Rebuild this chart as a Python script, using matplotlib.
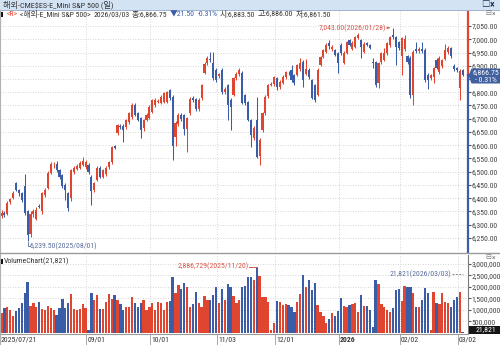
import matplotlib
matplotlib.use("Agg")
import matplotlib.pyplot as plt
from matplotlib import font_manager
from matplotlib.patches import Rectangle, Polygon
import numpy as np

_have = {f.name for f in font_manager.fontManager.ttflist}
_narrow = [n for n in ("Liberation Sans Narrow", "DejaVu Sans Condensed", "Roboto Condensed")
           if n in _have]
if _narrow:
    LATIN, FS = _narrow[0], 5.6
else:
    LATIN, FS = "Liberation Sans", 4.7
plt.rcParams["font.family"] = [LATIN, "Noto Sans CJK KR", "DejaVu Sans"]

# ---- daily bars 2025/07/21 .. 2026/03/03 ----
opens = [6332, 6346, 6340, 6385, 6400, 6456, 6430, 6418, 6445, 6350,
         6266, 6340, 6322, 6372, 6350, 6412, 6440, 6496, 6524, 6528,
         6505, 6486, 6450, 6418, 6400, 6498, 6510, 6516, 6526, 6518,
         6525, 6480, 6432, 6470, 6516, 6480, 6490, 6518, 6535, 6596,
         6648, 6672, 6672, 6668, 6688, 6707, 6752, 6720, 6703, 6666,
         6695, 6703, 6725, 6752, 6764, 6760, 6763, 6765, 6808, 6782,
         6632, 6680, 6716, 6714, 6660, 6722, 6780, 6776, 6735, 6778,
         6873, 6910, 6926, 6910, 6884, 6860, 6884, 6800, 6827, 6771,
         6790, 6853, 6868, 6873, 6790, 6763, 6695, 6627, 6695, 6560,
         6657, 6722, 6784, 6828, 6830, 6853, 6820, 6835, 6857, 6874,
         6884, 6865, 6865, 6888, 6914, 6870, 6884, 6846, 6827, 6790,
         6903, 6933, 6952, 6986, 6962, 6960, 6948, 6978, 6910, 6948,
         6997, 6962, 6971, 7005, 6997, 6952, 6986, 6978, 6914, 6914,
         6835, 6914, 6922, 6948, 6978, 7016, 7008, 6990, 6935, 6962,
         6935, 6930, 6790, 6962, 6955, 6965, 6960, 6866, 6852, 6858,
         6922, 6875, 6900, 6925, 6952, 6966, 6900, 6890, 6815, 6883.5]
closes = [6345, 6336, 6383, 6396, 6420, 6432, 6418, 6392, 6345, 6262,
          6342, 6350, 6355, 6368, 6418, 6430, 6495, 6530, 6526, 6506,
          6480, 6446, 6430, 6362, 6505, 6515, 6520, 6532, 6542, 6535,
          6498, 6428, 6456, 6514, 6482, 6505, 6516, 6536, 6592, 6590,
          6676, 6668, 6658, 6695, 6720, 6750, 6716, 6696, 6658, 6695,
          6714, 6744, 6771, 6770, 6768, 6782, 6797, 6800, 6778, 6598,
          6684, 6716, 6698, 6660, 6702, 6776, 6772, 6735, 6772, 6826,
          6908, 6928, 6920, 6855, 6848, 6868, 6800, 6812, 6752, 6745,
          6853, 6868, 6884, 6760, 6760, 6695, 6640, 6665, 6556, 6620,
          6720, 6782, 6827, 6832, 6857, 6820, 6838, 6857, 6876, 6872,
          6846, 6835, 6903, 6910, 6846, 6888, 6858, 6780, 6771, 6884,
          6933, 6959, 6978, 6973, 6971, 6940, 6910, 6948, 6948, 6990,
          6980, 6986, 7008, 7016, 6971, 6982, 6980, 6968, 6910, 6827,
          6910, 6948, 6948, 6986, 7008, 7008, 6972, 6968, 7005, 7000,
          6915, 6790, 6952, 6955, 6962, 6956, 6846, 6848, 6864, 6890,
          6892, 6930, 6920, 6958, 6968, 6935, 6886, 6884, 6882, 6866.75]
highs = [6355, 6352, 6390, 6402, 6428, 6462, 6436, 6424, 6492, 6356,
         6350, 6358, 6366, 6380, 6425, 6438, 6502, 6538, 6535, 6540,
         6512, 6490, 6458, 6425, 6512, 6522, 6528, 6540, 6555, 6545,
         6532, 6486, 6462, 6520, 6522, 6510, 6522, 6542, 6598, 6600,
         6682, 6680, 6680, 6700, 6726, 6758, 6760, 6726, 6708, 6700,
         6720, 6750, 6776, 6778, 6774, 6788, 6802, 6806, 6814, 6790,
         6690, 6722, 6722, 6718, 6708, 6782, 6786, 6780, 6778, 6832,
         6915, 6935, 6952, 6952, 6890, 6874, 6890, 6818, 6832, 6778,
         6858, 6875, 6892, 6880, 6795, 6768, 6700, 6672, 6782, 6628,
         6726, 6788, 6832, 6838, 6862, 6858, 6845, 6864, 6882, 6880,
         6903, 6870, 6908, 6929, 6920, 6927, 6890, 6850, 6832, 6890,
         6938, 6964, 6985, 6997, 6978, 6964, 6952, 6984, 6954, 6995,
         7000, 6992, 7014, 7024, 7002, 6988, 6990, 6982, 6929, 6918,
         6915, 6952, 6967, 6990, 7014, 7043, 7012, 6995, 7010, 7016,
         6940, 6936, 6958, 6990, 6970, 6990, 6966, 6872, 6868, 6895,
         6928, 6935, 6926, 6982, 6975, 6972, 6905, 6895, 6888, 6886]
lows = [6325, 6330, 6335, 6380, 6396, 6428, 6410, 6385, 6338, 6239.5,
        6255, 6330, 6318, 6362, 6342, 6405, 6435, 6490, 6516, 6500,
        6472, 6440, 6393, 6352, 6390, 6492, 6505, 6510, 6520, 6512,
        6490, 6374, 6425, 6465, 6476, 6475, 6484, 6512, 6530, 6584,
        6640, 6660, 6612, 6662, 6682, 6700, 6710, 6690, 6627, 6655,
        6690, 6698, 6720, 6746, 6758, 6755, 6758, 6760, 6772, 6544,
        6596, 6674, 6690, 6639, 6574, 6716, 6764, 6728, 6730, 6772,
        6868, 6904, 6914, 6848, 6840, 6855, 6795, 6792, 6695, 6657,
        6785, 6848, 6862, 6755, 6752, 6690, 6593, 6620, 6550, 6525,
        6650, 6716, 6778, 6822, 6824, 6808, 6814, 6830, 6850, 6866,
        6840, 6828, 6860, 6882, 6820, 6865, 6850, 6775, 6765, 6785,
        6898, 6928, 6948, 6965, 6955, 6935, 6873, 6942, 6905, 6944,
        6975, 6958, 6966, 7000, 6929, 6948, 6975, 6962, 6890, 6820,
        6816, 6908, 6918, 6942, 6972, 7000, 6903, 6960, 6865, 6955,
        6908, 6780, 6752, 6948, 6948, 6950, 6840, 6812, 6846, 6835,
        6886, 6868, 6892, 6920, 6946, 6928, 6880, 6875, 6771, 6861.5]
volume_k = [870, 1090, 1130, 1000, 750, 950, 1100, 1290, 1750, 2220,
            1170, 1310, 1130, 1330, 1060, 1000, 1170, 1090, 1000, 780,
            1100, 1460, 1100, 1320, 1700, 1030, 980, 1030, 1250, 1100,
            130, 1750, 1430, 1640, 1060, 1060, 1360, 1700, 1480, 1640,
            1430, 1280, 1000, 1130, 1130, 1570, 1290, 1140, 1300, 1420,
            1000, 1130, 1290, 1000, 1350, 1290, 1000, 1330, 1380, 2450,
            1730, 2070, 1930, 2160, 2000, 1140, 1250, 1800, 1300, 1140,
            1600, 1450, 1430, 1650, 2000, 1300, 1900, 1420, 2150, 2000,
            1600, 1300, 1450, 2000, 2030, 2450, 2450, 2300, 2886.729, 2480,
            1560, 1560, 1360, 130, 420, 1400, 1360, 1220, 1260, 1220,
            1110, 930, 1360, 1690, 2510, 2010, 2300, 1870, 2160, 1220,
            930, 740, 430, 620, 860, 760, 970, 1500, 1170, 1110,
            1220, 1260, 1290, 920, 1650, 1170, 1190, 1000, 250, 2300,
            2150, 1270, 1110, 1000, 900, 1100, 1870, 1900, 1400, 2050,
            2000, 2010, 1720, 1140, 1130, 1450, 1950, 1730, 150, 1800,
            1290, 1250, 1730, 1360, 1300, 1130, 1450, 1550, 1780, 21.821]

date_ticks = [0, 30, 52, 75, 95, 117, 138, 158]
date_labels = ["2025/07/21", "09/01", "10/01", "11/03", "12/01", "2026", "02/02", "03/02"]
price_ticks = list(range(6250, 7051, 50))
vol_ticks = [500000, 1000000, 1500000, 2000000, 2500000, 3000000]

RED = "#e0452f"
BLUE = "#3b5ca7"
RED_T = "#d9574a"
BLUE_T = "#5b6f9e"
INK = "#333333"
GRID = "#c9c9c9"

W, H = 500, 345
fig = plt.figure(figsize=(W / 100, H / 100), dpi=100)
fig.patch.set_facecolor("white")


def rect(x0, y0, x1, y1):
    return [x0 / W, 1 - y1 / H, (x1 - x0) / W, (y1 - y0) / H]


o = np.array(opens); c = np.array(closes)
hi = np.array(highs); lo = np.array(lows)
vol = np.array(volume_k) * 1000
x = np.arange(len(o))
up = c >= o
cols = np.where(up, RED, BLUE)
XLIM = (-0.52, 160.86)
tick_x = [t - 0.7 for t in date_ticks]

# ---------------- price panel ----------------
ax = fig.add_axes(rect(0, 10, 468, 252))
ax.set_xlim(*XLIM)
ax.set_ylim(6197.1, 7110.4)
for p in price_ticks:
    ax.axhline(p, color=GRID, lw=0.6, ls=(0, (1, 2)), zorder=0)
for tx in tick_x[1:]:
    ax.axvline(tx, color=GRID, lw=0.6, ls=(0, (1, 2)), zorder=0)
ax.vlines(x, lo, hi, colors=cols, lw=0.75, zorder=2)
ax.bar(x, np.maximum(np.abs(c - o), 1.5), bottom=np.minimum(o, c), width=0.72,
       color=cols, linewidth=0, zorder=3)
ax.yaxis.tick_right()
ax.set_yticks(price_ticks)
# the label nearest the last price sits under the price box, as in the terminal
ax.set_yticklabels(["" if abs(p - c[-1]) < 25 else f"{p:,.2f}" for p in price_ticks])
ax.tick_params(axis="y", labelsize=FS, length=1.8, pad=0.8, colors="#555555", labelcolor="#444444")
ax.set_xticks([])
for s in ax.spines.values():
    s.set_visible(False)
ytr = ax.get_yaxis_transform()
ax.plot([1, 1], [c[-1], 7110.4], color=RED, lw=1.6, transform=ytr, clip_on=False, zorder=5)
ax.plot([1, 1], [6197.1, c[-1]], color=BLUE, lw=1.6, transform=ytr, clip_on=False, zorder=5)

# high / low markers
ih = int(np.argmax(hi)); il = int(np.argmin(lo))
ax.text(ih - 2.4, hi[ih], f"{hi[ih]:,.2f}(2026/01/28)", color=RED_T, fontsize=FS,
        ha="right", va="center", zorder=6)
ax.annotate("", xy=(ih - 0.2, hi[ih]), xytext=(ih - 2.3, hi[ih]),
            arrowprops=dict(arrowstyle="-|>", color=RED_T, lw=0.6, mutation_scale=3))
ax.plot([il, il, il + 0.7], [lo[il] - 3, 6219.7, 6219.7], color=BLUE_T, lw=0.6)
ax.text(il + 0.8, 6219.7, f"{lo[il]:,.2f}(2025/08/01)", color=BLUE_T, fontsize=FS,
        ha="left", va="center")

# ---------------- volume panel ----------------
av = fig.add_axes(rect(0, 255, 468, 334))
av.set_xlim(*XLIM)
av.set_ylim(-43478, 3391000)
for v in vol_ticks:
    av.axhline(v, color=GRID, lw=0.6, ls=(0, (1, 2)), zorder=0)
for tx in tick_x[1:]:
    av.axvline(tx, color=GRID, lw=0.6, ls=(0, (1, 2)), zorder=0)
av.bar(x, vol, width=0.78, color=cols, linewidth=0, zorder=2)
av.yaxis.tick_right()
av.set_yticks(vol_ticks)
av.set_yticklabels([f"{v:,}" for v in vol_ticks])
av.tick_params(axis="y", labelsize=FS, length=1.8, pad=0.5, colors="#555555", labelcolor="#444444")
av.set_xticks([])
for k, s in av.spines.items():
    s.set_visible(k in ("bottom", "right"))
av.spines["bottom"].set_color("#9a9a9a"); av.spines["bottom"].set_linewidth(0.8)
av.spines["right"].set_color("#7a7a7a"); av.spines["right"].set_linewidth(0.8)

iv = int(np.argmax(vol))
av.text(iv - 2.7, vol[iv], f"{vol[iv]:,.0f}(2025/11/20)", color=RED_T, fontsize=FS,
        ha="right", va="center")
av.plot([iv - 2.6, iv], [vol[iv], vol[iv]], color=RED_T, lw=0.7)
y_cur = 2565000
av.text(len(x) - 4.9, y_cur, f"{vol[-1]:,.0f}(2026/03/03)", color=BLUE_T, fontsize=FS,
        ha="right", va="center")
av.plot([len(x) - 4.6, len(x) - 0.7], [y_cur, y_cur], color="#8a8a8a", lw=0.7, ls=(0, (2, 1.5)))

xtr = av.get_xaxis_transform()
for tx, lab in zip(tick_x, date_labels):
    if lab != date_labels[0]:
        av.plot([tx, tx], [0, -0.15], color="#9a9a9a", lw=0.6, transform=xtr, clip_on=False)
    av.text(max(tx + 0.35, -0.3), -0.075, lab, transform=xtr, fontsize=FS, color=INK,
            ha="left", va="center", fontweight="bold" if lab == "2026" else "normal")

# ---------------- overlay: header, boxes ----------------
ov = fig.add_axes([0, 0, 1, 1], zorder=10)
ov.set_xlim(0, W); ov.set_ylim(H, 0); ov.axis("off")
ov.add_patch(Rectangle((0, 0), W, 9.5, color="#d4e3f4", lw=0))
ov.plot([0, W], [9.5, 9.5], color="#9cb3d1", lw=0.7)
ov.text(3, 5, "해외-CME$ES-E_Mini S&P 500 (일)", fontsize=FS + 0.3, color=INK, va="center")
ov.text(481, 4.8, "□", fontsize=FS + 0.5, color="#1a2f55", va="center", fontweight="bold")
ov.text(490, 4.8, "×", fontsize=FS + 1.5, color="#1a2f55", va="center", fontweight="bold")
ov.plot([0.4, 0.4], [9.5, H], color="#b0b0b0", lw=0.8)

ov.add_patch(Rectangle((1.2, 12), 1.6, 4.5, color="#111111", lw=0))
header = [("<R>", 6.5, RED), ("<해외-E_Mini S&P 500>", 19, INK), ("2026/03/03", 90, INK),
          ("종:6,866.75", 119, INK), ("▼21.50", 164, BLUE), ("-0.31%", 189, BLUE),
          ("시:6,883.50", 214, INK), ("고:6,886.00", 250, INK), ("저:6,861.50", 282, INK)]
renderer = fig.canvas.get_renderer()
end = 0
for txt, px, col in header:
    t = ov.text(max(px, end + 2.5), 14.3, txt, fontsize=FS, color=col, va="center")
    bb = t.get_window_extent(renderer)
    end = bb.x1 / fig.dpi * 100
for yy in (13.5, 257.5):
    ov.text(485, yy, "⊟", fontsize=FS - 0.6, color="#777777", va="center")
    ov.text(492, yy, "×", fontsize=FS, color="#777777", va="center")

ov.plot([0, W], [253.3, 253.3], color="#9a9a9a", lw=1.0)
ov.add_patch(Rectangle((1.2, 259), 1.6, 4.5, color="#111111", lw=0))
ov.text(4, 261.3, "VolumeChart(21,821)", fontsize=FS, color=INK, va="center")

# current price box
ov.add_patch(Polygon([(468.5, 75.5), (471.5, 68.5), (500, 68.5), (500, 83.5), (471.5, 83.5)],
                     closed=True, color="#41609f", lw=0))
ov.text(486, 72.3, "6,866.75", fontsize=FS, color="white", ha="center", va="center")
ov.text(486, 79.6, "- 0.31%", fontsize=FS, color="white", ha="center", va="center")
# current volume box
ov.add_patch(Rectangle((468.5, 325.5), 31.5, 8.5, color="#151515", lw=0))
ov.text(486, 329.6, "21,821", fontsize=FS, color="white", ha="center", va="center")

fig.savefig("out.png", dpi=100)
